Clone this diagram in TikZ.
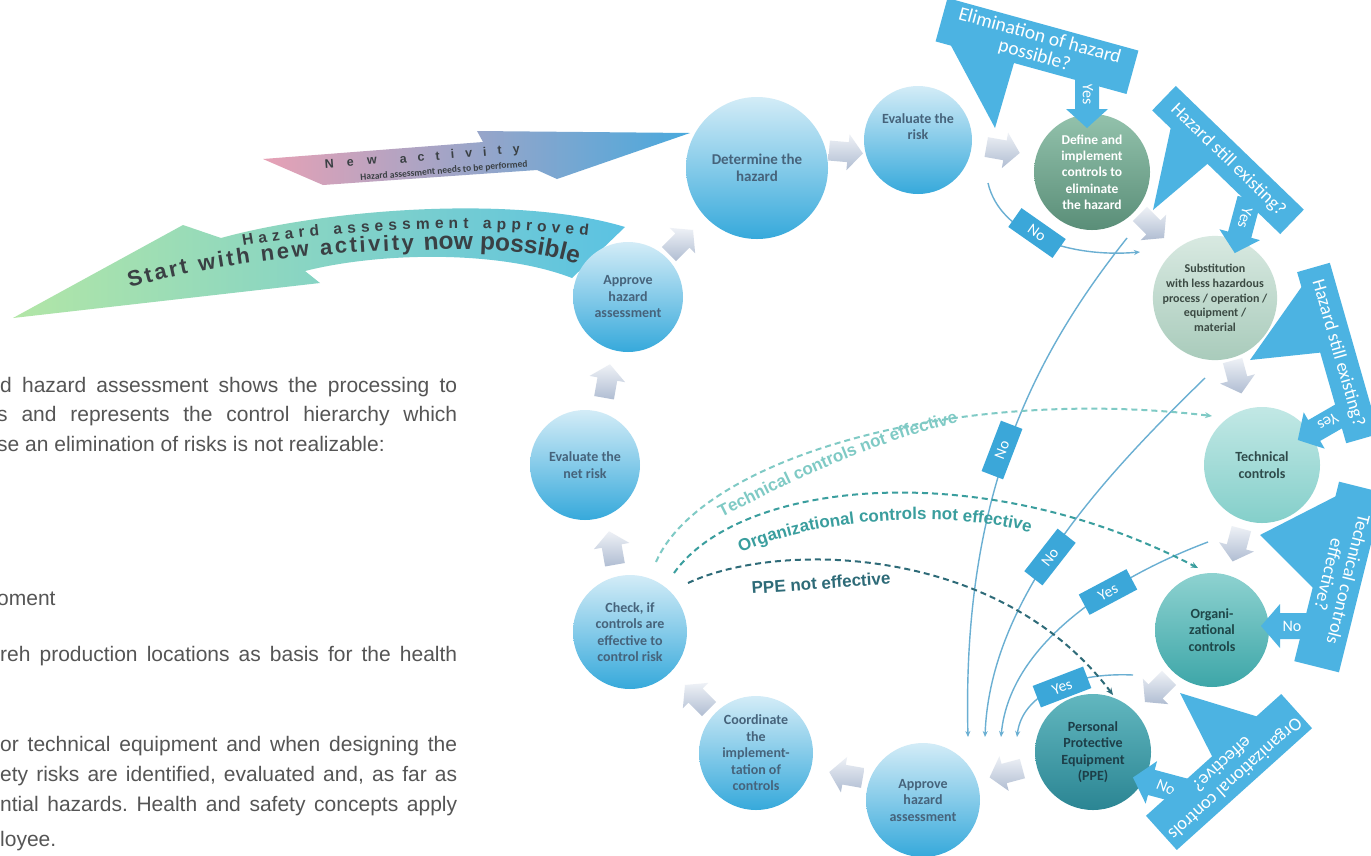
\documentclass[tikz,border=0pt]{standalone}
\usepackage{fontspec}
\setmainfont{Liberation Sans}
\newfontfamily\calib{Carlito}
\usetikzlibrary{arrows.meta,decorations.text}
\newcommand{\fsz}[2]{\fontsize{#1}{#2}\selectfont}
\definecolor{cTop}{HTML}{D3ECF7}
\definecolor{cBot}{HTML}{36A9DB}
\definecolor{cTxt}{HTML}{46637B}
\definecolor{defTop}{HTML}{93C2AC}
\definecolor{defBot}{HTML}{5A8E78}
\definecolor{subTop}{HTML}{D8E9E1}
\definecolor{subBot}{HTML}{A9CBBB}
\definecolor{subTxt}{HTML}{3B4A43}
\definecolor{tecTop}{HTML}{C2E8E5}
\definecolor{tecBot}{HTML}{84CFCA}
\definecolor{tecTxt}{HTML}{2F4B4B}
\definecolor{orgTop}{HTML}{8ED2D0}
\definecolor{orgBot}{HTML}{3DA6A8}
\definecolor{orgTxt}{HTML}{1E4648}
\definecolor{ppeTop}{HTML}{62B7BF}
\definecolor{ppeBot}{HTML}{2B8593}
\definecolor{ppeTxt}{HTML}{1D3E48}
\definecolor{grT}{HTML}{EEF1F6}
\definecolor{grB}{HTML}{B0BDD2}
\definecolor{callblue}{HTML}{4CB3E2}
\definecolor{lblblue}{HTML}{3BA7D9}
\definecolor{linec}{HTML}{6AAFD2}
\definecolor{dashT}{HTML}{7FCAC5}
\definecolor{dashO}{HTML}{3A9E9E}
\definecolor{dashP}{HTML}{2E6B78}
\definecolor{paraT}{HTML}{555555}
\definecolor{gL}{HTML}{B2E6A6}
\definecolor{gM}{HTML}{92D9C4}
\definecolor{gR}{HTML}{5BC2E3}
\definecolor{nP}{HTML}{E7A1B5}
\definecolor{nM}{HTML}{A7A3D5}
\definecolor{nB}{HTML}{49A9DD}
\definecolor{arrT}{HTML}{3A4044}
\tikzset{
  pics/grayarr/.style={code={
    \path[top color=grT, bottom color=grB] (-17,-10) -- (2,-10) -- (2,-18) -- (17,0) -- (2,18) -- (2,10) -- (-17,10) -- cycle;}},
  pics/bluearr/.style n args={4}{code={
    \path[fill=callblue] (-#1/2,-#2) -- (#1/2-#4,-#2) -- (#1/2-#4,-#3) -- (#1/2,0) -- (#1/2-#4,#3) -- (#1/2-#4,#2) -- (-#1/2,#2) -- cycle;}}
}
\begin{document}
\begin{tikzpicture}[x=1pt,y=-1pt,
  para/.style={anchor=base west, inner sep=0pt, text=paraT, font=\frenchspacing\fsz{21}{24}},
  circ/.style={circle, minimum size=#1, inner sep=0pt, align=center, font=\calib\bfseries\fsz{14}{16.5}},
  bluec/.style={top color=cTop, bottom color=cBot, text=cTxt},
  banner/.style={rectangle, fill=callblue, text=white, align=center, inner sep=0pt, font=\calib\fsz{18.5}{20}},
  ptr/.style={fill=callblue},
  atxt/.style={text=white, inner sep=0pt, font=\calib\fsz{16}{16}},
  lbl/.style={rectangle, fill=lblblue, text=white, font=\calib\fsz{15.5}{15.5}, minimum width=54pt, minimum height=23pt, inner sep=1pt},
  conn/.style={draw=linec, line width=1.4pt, -{Stealth[length=6pt,width=5pt]}},
  dashconn/.style={dash pattern=on 6pt off 4pt, line width=2pt, -{Stealth[length=7pt,width=6pt]}},
  dtxt/.style={font=\bfseries\fsz{17}{17}}
]
\useasboundingbox (0,0) rectangle (1371,855);
\clip (0,0) rectangle (1371,855);
\fill[white] (0,0) rectangle (1371,855);

% paragraph fragments
\node[para] (p1) at (0,392) {\makebox[457pt][s]{d hazard assessment shows the processing to}};
\node[para] (p2) at (-3,421) {\makebox[460pt][s]{s and represents the control hierarchy which}};
\node[para] (p3) at (-3,451) {se an elimination of risks is not realizable:};
\node[para] (p4) at (-3,605) {oment};
\node[para] (p5) at (0,661) {\makebox[457pt][s]{reh production locations as basis for the health}};
\node[para] (p6) at (0,751) {\makebox[457pt][s]{or technical equipment and when designing the}};
\node[para] (p7) at (0,781) {\makebox[457pt][s]{ety risks are identified, evaluated and, as far as}};
\node[para] (p8) at (0,811) {\makebox[457pt][s]{ntial hazards. Health and safety concepts apply}};
\node[para] (p9) at (0,846) {loyee.};

% big left arrows
\path[left color=gL, middle color=gM, right color=gR] (13,318) -- (183,225) -- (221,238) .. controls (330,208) and (520,195) .. (625,227) -- (572,278) .. controls (500,250) and (380,252) .. (305,271) -- (320,283) -- cycle;
\path[left color=nP, middle color=nM, right color=nB] (263,159) -- (483,142) -- (477,131) -- (690,133) -- (557,179) -- (537,170) -- (323,185) -- cycle;

\path[decorate, decoration={text along path, text align={fit to path}, text color=arrT, text={|\bfseries\fsz{15.5}{16}|Hazard assessment approved}}] (243,246) .. controls (320,233) and (450,220) .. (588,236);
\path[decorate, decoration={text along path, text align={fit to path}, text color=arrT, text={|\bfseries\fsz{22}{22}|Start with new activity}}] (130,288) .. controls (200,267) and (300,253) .. (414,250);
\path[decorate, decoration={text along path, text align={fit to path}, text color=arrT, text={|\bfseries\fsz{24.5}{25}|now possible}}] (424,251) .. controls (472,247) and (530,250) .. (574,263);
\path[decorate, decoration={text along path, text align={fit to path}, text color=arrT, text={|\bfseries\fsz{12.5}{13}|New}}] (325,168) -- (377,164);
\path[decorate, decoration={text along path, text align={fit to path}, text color=arrT, text={|\bfseries\fsz{12.5}{13}|activity}}] (400,163) -- (520,153);
\node[rotate=4.7, inner sep=0pt, font=\calib\bfseries\fsz{9.5}{10}, text=arrT] (sub) at (444,171) {Hazard assessment needs to be performed};

% connector coordinates
\coordinate (arcS) at (988,183);
\coordinate (arcE) at (1140,252);
\coordinate (aS) at (1127,238);
\coordinate (aE) at (968,737);
\coordinate (bS) at (1205,378);
\coordinate (bE) at (985,737);
\coordinate (cS) at (1208,542);
\coordinate (cE) at (1001,737);
\coordinate (dS) at (1133,675);
\coordinate (dE) at (1017,737);
\coordinate (tS) at (656,562);
\coordinate (tE) at (1212,416);
\coordinate (oS) at (674,573);
\coordinate (oE) at (1198,568);
\coordinate (pS) at (688,583);
\coordinate (pE) at (1113,695);

% solid connectors
\draw[conn] (arcS) .. controls (1000,235) and (1070,258) .. (arcE);
\draw[conn] (aS) .. controls (1030,360) and (962,500) .. (aE);
\draw[conn] (bS) .. controls (1100,480) and (990,600) .. (bE);
\draw[conn] (cS) .. controls (1120,575) and (1010,640) .. (cE);
\draw[conn] (dS) .. controls (1070,672) and (1022,695) .. (dE);

% dashed connectors
\draw[dashconn, draw=dashT] (tS) .. controls (700,460) and (950,385) .. (tE);
\draw[dashconn, draw=dashO] (oS) .. controls (740,480) and (980,455) .. (oE);
\draw[dashconn, draw=dashP] (pS) .. controls (780,540) and (1000,545) .. (pE);
\path[decorate, decoration={text along path, text align=center, text color=dashT, text={|\bfseries\fsz{17}{17}|Technical controls not effective}}] (706,525) .. controls (780,488) and (870,440) .. (975,419);
\path[decorate, decoration={text along path, text align=center, text color=dashO, text={|\bfseries\fsz{17}{17}|Organizational controls not effective}}] (726,560) .. controls (810,515) and (960,508) .. (1046,537);
\node[dtxt, text=dashP, rotate=4, inner sep=0pt] (pTxt) at (821,583) {PPE not effective};

% gray step arrows
\pic[rotate=-5] (g1) at (846,152) {grayarr};
\pic[rotate=-10] (g2) at (1003,150) {grayarr};
\pic[rotate=-45] (g3) at (1152,226) {grayarr};
\pic[rotate=-75] (g4) at (1237,377) {grayarr};
\pic[rotate=-105] (g5) at (1237,545) {grayarr};
\pic[rotate=-135] (g6) at (1157,690) {grayarr};
\pic[rotate=-165] (g7) at (1006,773) {grayarr};
\pic[rotate=170] (g8) at (846,775) {grayarr};
\pic[rotate=135] (g9) at (697,697) {grayarr};
\pic[rotate=100] (g10) at (612,548) {grayarr};
\pic[rotate=80] (g11) at (607,381) {grayarr};
\pic[rotate=45] (g12) at (681,242) {grayarr};

% circles
\node[circ=110pt, bluec] (apTop) at (628,297) {Approve\\hazard\\assessment};
\node[circ=142pt, bluec, font=\calib\bfseries\fsz{15}{17}] (det) at (757,168) {Determine the\\hazard};
\node[circ=108pt, bluec] (evr) at (918,140) {Evaluate the\\risk\\[10pt]\mbox{}};
\node[circ=116pt, top color=defTop, bottom color=defBot, text=white, font=\calib\bfseries\fsz{13.5}{16.3}] (def) at (1092,172) {Define and\\implement\\controls to\\eliminate\\the hazard};
\node[circ=116pt, top color=subTop, bottom color=subBot, text=subTxt, font=\calib\bfseries\fsz{12}{14.7}] (sub2) at (1215,298) {Substitution\\with less hazardous\\process / operation /\\equipment /\\material};
\node[circ=116pt, top color=tecTop, bottom color=tecBot, text=tecTxt] (tec) at (1262,465) {Technical\\controls};
\node[circ=114pt, top color=orgTop, bottom color=orgBot, text=orgTxt] (org) at (1212,630) {Organi-\\zational\\controls};
\node[circ=116pt, top color=ppeTop, bottom color=ppeBot, text=ppeTxt] (ppe) at (1093,752) {Personal\\Protective\\Equipment\\(PPE)};
\node[circ=114pt, bluec] (apBot) at (923,800) {Approve\\hazard\\assessment};
\node[circ=114pt, bluec] (coord) at (756,753) {Coordinate\\the\\implement-\\tation of\\controls};
\node[circ=114pt, bluec] (chk) at (630,632) {Check, if\\controls are\\effective to\\control risk};
\node[circ=110pt, bluec] (net) at (585,465) {Evaluate the\\net risk};

% callouts: pointers
\path[ptr] (948,40) -- (995,128) -- (1016,56) -- cycle;
\path[ptr] (1172,122) -- (1153,210) -- (1212,160) -- cycle;
\path[ptr] (1305,282) -- (1250,360) -- (1326,352) -- cycle;
\path[ptr] (1348,490) -- (1260,535) -- (1322,597) -- cycle;
\path[ptr] (1262,718) -- (1180,693) -- (1217,766) -- cycle;
% callout arrows
\pic[rotate=-90] (yes1) at (1087,102) {bluearr={52}{12}{21}{19}};
\pic[rotate=-105] (yes2) at (1242,226) {bluearr={56}{12}{21}{19}};
\pic[rotate=-150] (yes3) at (1322,426) {bluearr={56}{12}{21}{19}};
\pic[rotate=180] (no4) at (1288,626) {bluearr={54}{13}{22}{19}};
\pic[rotate=165] (no5) at (1161,785) {bluearr={58}{13}{22}{19}};
\node[atxt, rotate=-90] (yes1t) at (1088,94) {Yes};
\node[atxt, rotate=-105] (yes2t) at (1245,218) {Yes};
\node[atxt, rotate=-150] (yes3t) at (1328,422) {Yes};
\node[atxt] (no4t) at (1292,626) {No};
\node[atxt, rotate=-22] (no5t) at (1166,787) {No};
% banners
\node[banner, rotate=-15.4, minimum width=198pt, minimum height=45pt, font=\calib\fsz{19.5}{20}] (ban1) at (1037,46) {Elimination of hazard\\possible?};
\node[banner, rotate=-44, minimum width=178pt, minimum height=34pt] (ban2) at (1228,160) {Hazard still existing?};
\node[banner, rotate=-74, minimum width=178pt, minimum height=34pt] (ban3) at (1338,353) {Hazard still existing?};
\node[banner, rotate=-104, minimum width=185pt, minimum height=46pt] (ban4) at (1339,577) {Technical controls\\effective?};
\node[banner, rotate=-138, minimum width=182pt, minimum height=46pt] (ban5) at (1229,772) {Organizational controls\\effective?};

% labels on connectors
\node[lbl, rotate=-35] (lNoArc) at (1037,233) {No};
\node[lbl, rotate=69] (lNoA) at (1002,450) {No};
\node[lbl, rotate=52] (lNoB) at (1050,557) {No};
\node[lbl, rotate=28] (lYesC) at (1108,592) {Yes};
\node[lbl, rotate=21] (lYesD) at (1062,687) {Yes};
\end{tikzpicture}
\end{document}
